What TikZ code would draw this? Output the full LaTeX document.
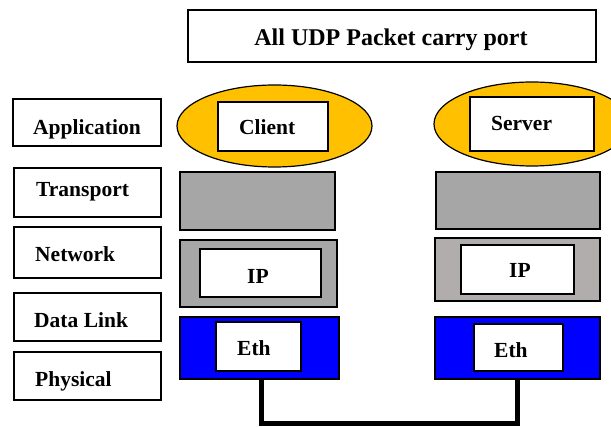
\documentclass[tikz,border=0pt]{standalone}
\usepackage{fontspec}
\setmainfont{Liberation Serif}
\usetikzlibrary{shapes.geometric}

\definecolor{appgold}{HTML}{FFC000}
\definecolor{stackgray}{HTML}{A6A6A6}
\definecolor{ipgray}{HTML}{B1ADAD}
\definecolor{linkblue}{HTML}{0000FF}

\tikzset{
  layerbox/.style={draw, line width=1.5pt, inner sep=0pt, fill=white},
  lbl/.style={anchor=base west, inner sep=0pt,
    font=\fontsize{21.5}{25}\selectfont\bfseries},
}

\begin{document}
\begin{tikzpicture}[x=1pt,y=-1pt]
    \useasboundingbox (0,0) rectangle (611,427);
    % title
    \node[layerbox, minimum width=408, minimum height=52] (title) at (392,36) {};
    \node[lbl, anchor=base, font=\fontsize{24}{28}\selectfont\bfseries] (titletext) at (391,46) {All UDP Packet carry port};
    % layer names
    \node[layerbox, minimum width=148, minimum height=47] (app) at (87,122.5) {};
    \node[layerbox, minimum width=147, minimum height=49] (trans) at (87.5,192.5) {};
    \node[layerbox, minimum width=147, minimum height=51] (net) at (87.5,252.5) {};
    \node[layerbox, minimum width=147, minimum height=48] (link) at (87.5,317) {};
    \node[layerbox, minimum width=147, minimum height=48] (phys) at (87.5,376) {};
    \node[lbl] (apptext) at (33,135) {Application};
    \node[lbl] (transtext) at (36,197) {Transport};
    \node[lbl] (nettext) at (35,262) {Network};
    \node[lbl] (linktext) at (34,328) {Data Link};
    \node[lbl] (physttext) at (35,387) {Physical};
    % client stack
    \node[ellipse, draw, line width=1.2pt, fill=appgold, minimum width=195, minimum height=82, inner sep=0pt] (clientapp) at (274.5,126) {};
    \node[layerbox, minimum width=110, minimum height=49] (clientbox) at (273,126.5) {};
    \node[lbl] (clienttext) at (239,135) {Client};
    \node[layerbox, line width=2.5pt, fill=stackgray, minimum width=155, minimum height=58] (clienttrans) at (257.5,201) {};
    \node[layerbox, line width=2pt, fill=stackgray, minimum width=157, minimum height=67] (clientnet) at (258.5,273.5) {};
    \node[layerbox, minimum width=121, minimum height=48] (clientip) at (260.5,273) {};
    \node[lbl] (clientiptext) at (247,284) {IP};
    \node[layerbox, fill=linkblue, minimum width=159, minimum height=62] (clientlink) at (259.5,348) {};
    \node[layerbox, minimum width=85, minimum height=49] (clienteth) at (258.5,346.5) {};
    \node[lbl] (clientethtext) at (237,356) {Eth};
    % server stack
    \node[ellipse, draw, line width=1.2pt, fill=appgold, minimum width=196, minimum height=84, inner sep=0pt] (serverapp) at (532,124) {};
    \node[layerbox, minimum width=124, minimum height=54] (serverbox) at (532,124) {};
    \node[lbl] (servertext) at (491,131) {Server};
    \node[layerbox, fill=stackgray, minimum width=164, minimum height=57] (servertrans) at (518,200.5) {};
    \node[layerbox, fill=ipgray, minimum width=165, minimum height=63] (servernet) at (517.5,269.5) {};
    \node[layerbox, minimum width=113, minimum height=49] (serverip) at (517.5,269.5) {};
    \node[lbl] (serveriptext) at (509,278) {IP};
    \node[layerbox, fill=linkblue, minimum width=165, minimum height=62] (serverlink) at (517.5,348) {};
    \node[layerbox, minimum width=89, minimum height=47] (servereth) at (518.5,347.5) {};
    \node[lbl] (serverethtext) at (494,358) {Eth};
    % physical wire
    \coordinate (wire) at (261,424);
    \draw[line width=5pt] (clientlink.south -| wire) |- (wire) -| (serverlink.south);
\end{tikzpicture}
\end{document}
